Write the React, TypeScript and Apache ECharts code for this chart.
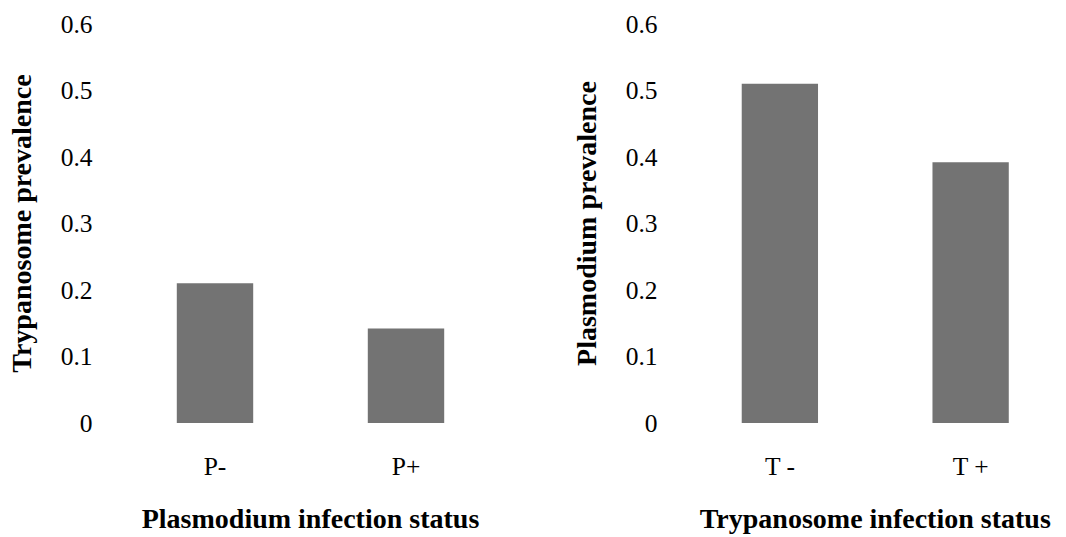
import React, { useEffect, useRef } from "react";
import * as echarts from "echarts";

const leftCategories = ["P-", "P+"];
const leftValues = [0.21, 0.142];
const rightCategories = ["T -", "T +"];
const rightValues = [0.51, 0.392];
const leftYTitle = "Trypanosome prevalence";
const leftXTitle = "Plasmodium infection status";
const rightYTitle = "Plasmodium prevalence";
const rightXTitle = "Trypanosome infection status";

const FONT = "'Liberation Serif', 'Times New Roman', serif";
const BAR = "#737373";

export default function App() {
  const ref = useRef<HTMLDivElement>(null);
  useEffect(() => {
    if (!ref.current) return;
    const chart = echarts.init(ref.current, null, { renderer: "svg" });
    const yAxisBase = (idx: number, name: string) => ({
      type: "value",
      gridIndex: idx,
      min: 0,
      max: 0.6,
      interval: 0.1,
      name,
      nameLocation: "middle",
      nameRotate: 90,
      nameGap: 84,
      nameTextStyle: { fontFamily: FONT, fontWeight: "bold", fontSize: 28, color: "#000" },
      axisLine: { show: false },
      axisTick: { show: false },
      splitLine: { show: false },
      axisLabel: { fontFamily: FONT, fontSize: 25.5, color: "#000", margin: 27 },
    });
    const xAxisBase = (idx: number, cats: string[], name: string) => ({
      type: "category",
      gridIndex: idx,
      data: cats,
      name,
      nameLocation: "middle",
      nameGap: 81,
      nameTextStyle: { fontFamily: FONT, fontWeight: "bold", fontSize: 28, color: "#000" },
      axisLine: { show: false },
      axisTick: { show: false },
      splitLine: { show: false },
      axisLabel: { fontFamily: FONT, fontSize: 25.5, color: "#000", margin: 30 },
    });
    chart.setOption({
      animation: false,
      backgroundColor: "#fff",
      grid: [
        { left: 119.5, top: 24, width: 382, height: 401, containLabel: false },
        { left: 684.5, top: 24, width: 382, height: 401, containLabel: false },
      ],
      xAxis: [xAxisBase(0, leftCategories, leftXTitle), xAxisBase(1, rightCategories, rightXTitle)],
      yAxis: [yAxisBase(0, leftYTitle), yAxisBase(1, rightYTitle)],
      series: [
        {
          type: "bar",
          xAxisIndex: 0,
          yAxisIndex: 0,
          data: leftValues,
          barWidth: "40%",
          itemStyle: { color: BAR },
        },
        {
          type: "bar",
          xAxisIndex: 1,
          yAxisIndex: 1,
          data: rightValues,
          barWidth: "40%",
          itemStyle: { color: BAR },
        },
      ],
    });
    return () => chart.dispose();
  }, []);
  return (
    <div
      ref={ref}
      style={{ position: "absolute", left: 0, top: 0, width: 1066, height: 537, background: "#fff" }}
    />
  );
}
